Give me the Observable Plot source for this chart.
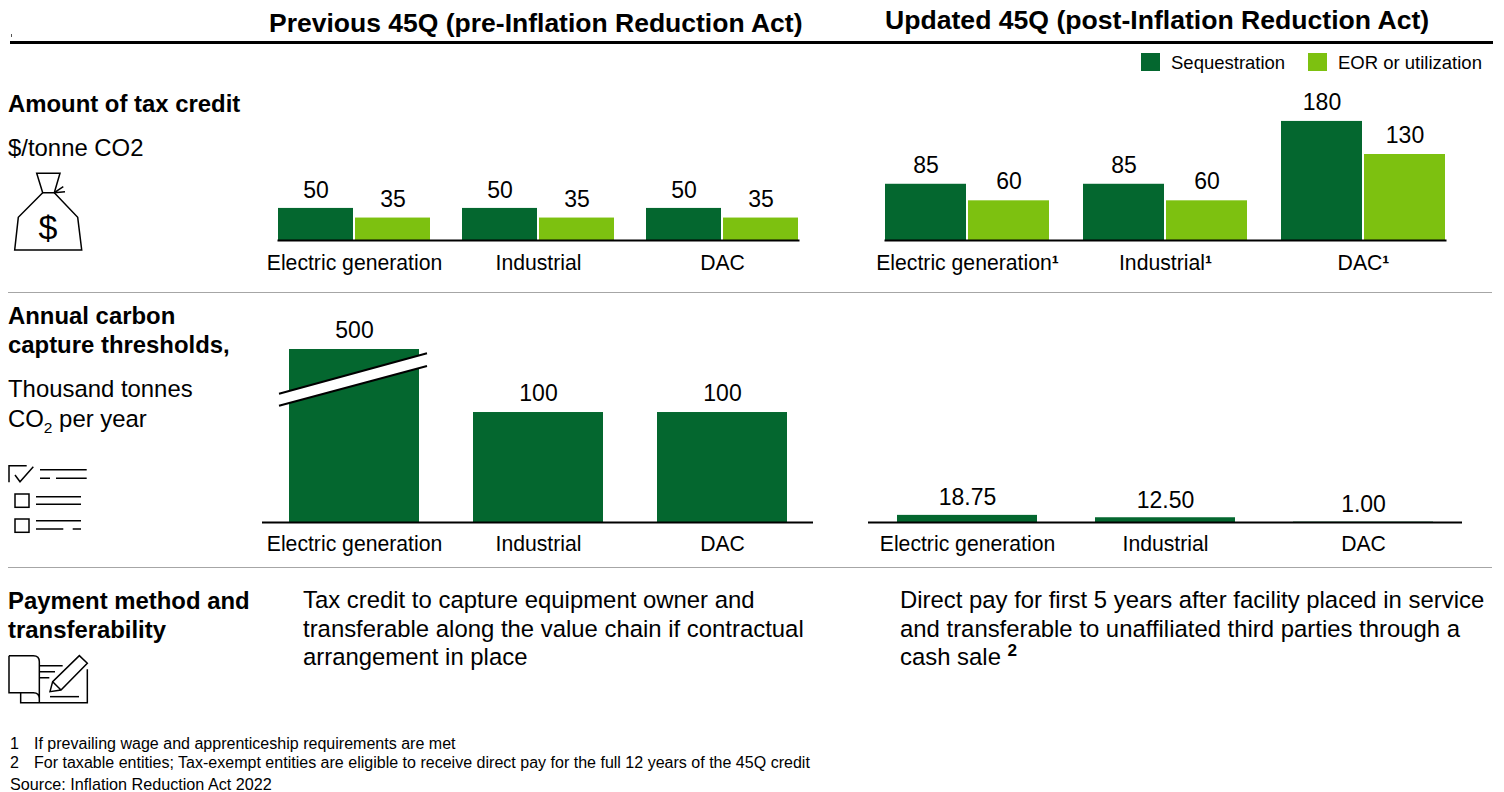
<!DOCTYPE html>
<html><head><meta charset="utf-8">
<script src="https://cdn.jsdelivr.net/npm/d3@7"></script>
<script src="https://cdn.jsdelivr.net/npm/@observablehq/plot@0.6"></script>
<style>
html,body{margin:0;padding:0;background:#fff}
#page{position:relative;width:1504px;height:792px;overflow:hidden;font-family:"Liberation Sans",Arial,sans-serif;color:#000}
.t{position:absolute;white-space:nowrap}
.b{font-weight:bold}
.p{position:absolute}
.r{position:absolute;background:#a6a6a6;height:1.5px}
sub,sup{font-size:.65em;line-height:0}
sup.b{font-size:.72em}
</style></head><body><div id="page"></div>
<script>
const categories = ["Electric generation", "Industrial", "DAC"];
const seriesNames = ["Sequestration", "EOR or utilization"];
const seriesColors = ["#04672F", "#7DC110"];
const prevSequestration = [50, 50, 50];
const prevEor = [35, 35, 35];
const updatedSequestration = [85, 85, 180];
const updatedEor = [60, 60, 130];
const prevThresholds = [500, 100, 100];
const updatedThresholds = [18.75, 12.5, 1];
const font = '"Liberation Sans",Arial,sans-serif';
const page = document.getElementById("page");

function place(node, left, top) {
  node.classList.add("p");
  node.style.left = left + "px";
  node.style.top = top + "px";
  page.appendChild(node);
}
function text(html, left, top, size, cls, lh) {
  const d = document.createElement("div");
  d.className = "t " + (cls || "");
  d.innerHTML = html;
  d.style.cssText += `left:${left}px;top:${top}px;font-size:${size}px;line-height:${lh || size * 1.15}px`;
  page.appendChild(d);
}
function rows(a, b) {
  return categories.flatMap((c, i) => [
    {category: c, series: seriesNames[0], value: a[i]},
    {category: c, series: seriesNames[1], value: b[i]}
  ]);
}
function boldSuperscripts(svg) {
  d3.select(svg).selectAll("text").each(function () {
    const s = this.textContent;
    if (!s.endsWith("\u00B9")) return;
    const sel = d3.select(this.querySelector("tspan") || this);
    sel.text(null);
    sel.append("tspan").text(s.slice(0, -1));
    sel.append("tspan").attr("font-weight", "bold").text("\u00B9");
  });
}
function grouped({a, b, left, width, top, height, yMax, outer, inner, sup, dy}) {
  const data = rows(a, b);
  const pl = Plot.plot({
    width, height, marginTop: 0, marginBottom: 40, marginLeft: 0, marginRight: 0,
    style: {fontFamily: font, background: "transparent", overflow: "visible"},
    fx: {domain: categories, paddingInner: inner, paddingOuter: outer, axis: null, label: null},
    x: {domain: seriesNames, paddingInner: 0.026, paddingOuter: 0, axis: null},
    y: {domain: [0, yMax], axis: null},
    color: {domain: seriesNames, range: seriesColors},
    marks: [
      Plot.barY(data, {fx: "category", x: "series", y: "value", fill: "series"}),
      Plot.text(data, {fx: "category", x: "series", y: "value", text: d => String(d.value), dy, lineAnchor: "middle", fontSize: 23, fill: "#000"}),
      Plot.frame({anchor: "bottom", facet: "super", stroke: "#000", strokeWidth: 2}),
      Plot.axisFx({anchor: "bottom", label: null, tickSize: 0, tickPadding: 14, fontSize: 21.2, fill: "#000", tickFormat: d => d + (sup ? "\u00B9" : "")})
    ]
  });
  boldSuperscripts(pl);
  place(pl, left, top);
}
function single({values, left, width, top, height, marginTop, yMax, clamp, dy}) {
  const data = categories.map((c, i) => ({category: c, value: values[i]}));
  const pl = Plot.plot({
    width, height, marginTop, marginBottom: 38, marginLeft: 0, marginRight: 0,
    style: {fontFamily: font, background: "transparent", overflow: "visible"},
    x: {domain: categories, paddingInner: 0.295, paddingOuter: 0.141, axis: null},
    y: {domain: [0, yMax], clamp: !!clamp, axis: null},
    marks: [
      Plot.barY(data, {x: "category", y: "value", fill: seriesColors[0]}),
      Plot.text(data, {x: "category", y: "value", text: d => Number.isInteger(d.value) && d.value >= 100 ? String(d.value) : d.value.toFixed(2), dy, lineAnchor: "middle", fontSize: 23, fill: "#000"}),
      Plot.ruleY([0], {stroke: "#000", strokeWidth: 2}),
      Plot.axisX({anchor: "bottom", label: null, tickSize: 0, tickPadding: 13, fontSize: 21.2, fill: "#000"})
    ]
  });
  place(pl, left, top);
}

/* chrome */
text("Previous 45Q (pre-Inflation Reduction Act)", 269, 8, 26.5, "b");
text("Updated 45Q (post-Inflation Reduction Act)", 885, 5, 26.6, "b");
const hd = document.createElement("div");
hd.style.cssText = "position:absolute;left:10px;top:41px;width:1483px;height:2.5px;background:#000";
page.appendChild(hd);
const speck = document.createElement("div");
speck.style.cssText = "position:absolute;left:11px;top:34px;width:1px;height:3px;background:#555";
page.appendChild(speck);
for (const y of [291.5, 566.5]) {
  const r = document.createElement("div");
  r.className = "r";
  r.style.cssText += `left:8px;top:${y}px;width:1484px`;
  page.appendChild(r);
}

/* legend */
const lg = [[1141, 1171], [1308, 1338]];
seriesNames.forEach((s, i) => {
  const sw = document.createElement("div");
  sw.style.cssText = `position:absolute;left:${lg[i][0]}px;top:53px;width:19px;height:18px;background:${seriesColors[i]}`;
  page.appendChild(sw);
  text(s, lg[i][1], 52, 18.5);
});

/* row labels */
text("Amount of tax credit", 8, 90, 23.9, "b");
text("$/tonne CO2", 8, 134, 23.9);
text("Annual carbon<br>capture thresholds,", 8, 301, 23.9, "b", 29);
text("Thousand tonnes<br>CO<sub>2</sub> per year", 8, 374, 23.9, "", 29.5);
text("Payment method and<br>transferability", 8, 586, 23.9, "b", 29);
text("Tax credit to capture equipment owner and<br>transferable along the value chain if contractual<br>arrangement in place", 303, 586, 23.9, "", 28.5);
text('Direct pay for first 5 years after facility placed in service<br>and transferable to unaffiliated third parties through a<br>cash sale <sup class="b">2</sup>', 900, 586, 23.9, "", 28.5);
text("1", 10, 734, 16.05);
text("If prevailing wage and apprenticeship requirements are met", 34, 734, 16.05);
text("2", 10, 753, 16.05);
text("For taxable entities; Tax-exempt entities are eligible to receive direct pay for the full 12 years of the 45Q credit", 34, 753, 16.05);
text("Source: Inflation Reduction Act 2022", 10, 775, 16.2);

/* charts */
grouped({a: prevSequestration, b: prevEor, left: 261.5, width: 551, top: 70, height: 210, yMax: 265, outer: 0.081, inner: 0.176, dy: -18});
grouped({a: updatedSequestration, b: updatedEor, left: 867.5, width: 594, top: 70, height: 210, yMax: 257, outer: 0.08, inner: 0.174, sup: true, dy: -19});
single({values: prevThresholds, left: 261.5, width: 551, top: 310, height: 250, marginTop: 39, yMax: 157.3, clamp: true, dy: -19});
single({values: updatedThresholds, left: 867.5, width: 594, top: 310, height: 250, marginTop: 0, yMax: 558, dy: -17.5});

/* icons and axis break */
const ns = "http://www.w3.org/2000/svg";
const ov = document.createElementNS(ns, "svg");
ov.setAttribute("width", 1504);
ov.setAttribute("height", 792);
ov.style.cssText = "position:absolute;left:0;top:0;pointer-events:none";
ov.innerHTML = `
<polygon points="279,393.7 427,353.3 427,366 279,405.7" fill="#fff"/>
<g fill="none" stroke="#000" stroke-width="2">
  <path d="M279 393.7L427 353.3M279 405.7L427 366"/>
</g>
<g fill="none" stroke="#000" stroke-width="1.5">
  <path d="M36.7 173.3H60L54.3 192.7H42.7Z"/>
  <path d="M42.7 192.7L18.3 217.3L14.7 250H81.7L77.7 217.3L54.3 192.7"/>
  <path d="M54.3 192.7L65 191.7M54.3 192.7L63.3 186.7"/>
  <path d="M9 482.3V465.7H26.7M15 475L20 481.7L33.3 466.7"/>
  <path d="M40 469.7H86.7M40 478.3H50M56 478.3H86.7"/>
  <rect x="15" y="494" width="14" height="13.3"/>
  <path d="M36 496.7H81M36 504.3H81"/>
  <rect x="15" y="519" width="14" height="13.3"/>
  <path d="M36 520.7H81M36 529H63.3M72.7 529H81"/>
</g>
<text x="48" y="239" text-anchor="middle" font-size="34" font-family='${font}'>$</text>
<g transform="translate(0,580) scale(.3333)" fill="none" stroke="#000" stroke-width="4.5">
  <path d="M27 227H100Q118 227 118 245V368M27 227V338H100Q118 338 118 356"/>
  <path d="M62 338V368H262V268"/>
  <path d="M120 257H188M120 275H165M120 293H148"/>
  <path d="M238 227L262 250L183 330L150 335L158 305ZM158 305L183 330"/>
  <path d="M150 350H237"/>
</g>`;
page.appendChild(ov);
</script></body></html>
